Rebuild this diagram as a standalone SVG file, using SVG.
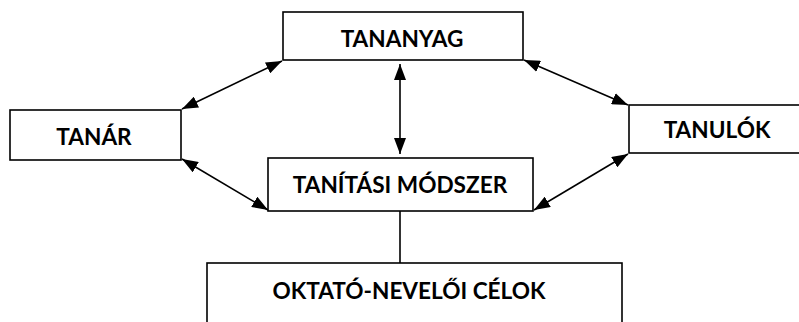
<svg xmlns="http://www.w3.org/2000/svg" width="799" height="322" viewBox="0 0 799 322">
<defs>
<style>
.box{fill:#fff;stroke:#000;stroke-width:1.6}
.lbl{font-family:"Lato","Carlito","Open Sans",sans-serif;font-weight:bold;font-size:22.6px;fill:#000;text-anchor:middle}
.con{stroke:#000;stroke-width:1.6;fill:none}
</style>
<marker id="ah" viewBox="0 0 16 12" refX="16" refY="6" markerWidth="16" markerHeight="12" markerUnits="userSpaceOnUse" orient="auto-start-reverse">
<path d="M0,0 L16,6 L0,12 z" fill="#000"/>
</marker>
</defs>
<rect width="799" height="322" fill="#fff"/>
<g id="connectors">
<line class="con" x1="282" y1="61" x2="182" y2="109" marker-start="url(#ah)" marker-end="url(#ah)"/>
<line class="con" x1="182" y1="159" x2="268" y2="210" marker-start="url(#ah)" marker-end="url(#ah)"/>
<line class="con" x1="524" y1="60" x2="628" y2="105" marker-start="url(#ah)" marker-end="url(#ah)"/>
<line class="con" x1="628" y1="154" x2="534" y2="210" marker-start="url(#ah)" marker-end="url(#ah)"/>
<line class="con" x1="400" y1="64" x2="400" y2="154" marker-start="url(#ah)" marker-end="url(#ah)"/>
<line class="con" x1="400" y1="211" x2="400" y2="263"/>
</g>
<g id="tananyag">
<rect class="box" x="283" y="12" width="240" height="48"/>
<text class="lbl" x="402" y="47">TANANYAG</text>
</g>
<g id="tanar">
<rect class="box" x="10" y="110" width="171" height="50"/>
<text class="lbl" x="94" y="145">TANÁR</text>
</g>
<g id="tanulok">
<rect class="box" x="629" y="105" width="175" height="48"/>
<text class="lbl" x="717" y="138">TANULÓK</text>
</g>
<g id="tanitasi-modszer">
<rect class="box" x="268" y="158" width="265" height="53"/>
<text class="lbl" x="400" y="193">TANÍTÁSI MÓDSZER</text>
</g>
<g id="oktato-neveloi-celok">
<rect class="box" x="207" y="263" width="415" height="70"/>
<text class="lbl" x="409" y="299">OKTATÓ-NEVELŐI CÉLOK</text>
</g>
</svg>
